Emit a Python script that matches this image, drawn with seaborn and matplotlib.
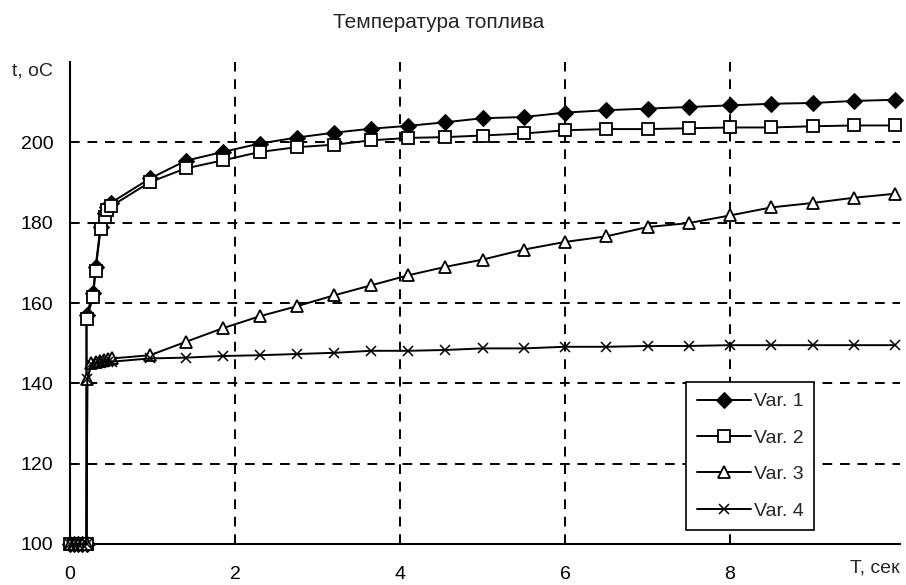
import matplotlib
matplotlib.use("Agg")
import matplotlib.pyplot as plt
import seaborn as sns
import pandas as pd

# ---- data ----
time_12 = [0, 0.05, 0.1, 0.15, 0.2, 0.2, 0.28, 0.31, 0.37, 0.42, 0.45, 0.5,
           0.97, 1.4, 1.85, 2.3, 2.75, 3.2, 3.65, 4.1, 4.55, 5.0, 5.5, 6.0,
           6.5, 7.0, 7.5, 8.0, 8.5, 9.0, 9.5, 10.0]
time_34 = [0, 0.05, 0.1, 0.15, 0.2, 0.21, 0.26, 0.31, 0.36, 0.41, 0.46, 0.51,
           0.97, 1.4, 1.85, 2.3, 2.75, 3.2, 3.65, 4.1, 4.55, 5.0, 5.5, 6.0,
           6.5, 7.0, 7.5, 8.0, 8.5, 9.0, 9.5, 10.0]
var1 = [100, 100, 100, 100, 100, 157, 162.5, 169, 179, 182.5, 184, 185,
        191, 195.4, 197.6, 199.7, 201.2, 202.4, 203.4, 204.1, 205.0, 206.0,
        206.3, 207.4, 208.0, 208.4, 208.8, 209.2, 209.6, 209.8, 210.3, 210.6]
var2 = [100, 100, 100, 100, 100, 156, 161.5, 168, 178.3, 181.4, 183.1, 184.1,
        190.1, 193.5, 195.5, 197.6, 198.8, 199.4, 200.5, 201.1, 201.3, 201.7,
        202.2, 203.0, 203.3, 203.3, 203.5, 203.7, 203.7, 204.0, 204.2, 204.2]
var3 = [100, 100, 100, 100, 100, 141, 145, 145.3, 145.5, 145.7, 146, 146.2,
        147.0, 150.3, 153.7, 156.7, 159.2, 161.9, 164.4, 166.9, 169.0, 170.8,
        173.3, 175.2, 176.6, 178.9, 179.9, 181.8, 183.8, 184.9, 186.2, 187.2]
var4 = [100, 100, 100, 100, 100, 141, 144.8, 145, 145.1, 145.2, 145.3, 145.4,
        146.2, 146.4, 146.8, 147.0, 147.3, 147.6, 148.1, 148.1, 148.3, 148.7,
        148.7, 149.1, 149.1, 149.3, 149.3, 149.5, 149.5, 149.5, 149.5, 149.5]
series_names = ["Var. 1", "Var. 2", "Var. 3", "Var. 4"]
x_ticks = [0, 2, 4, 6, 8, 10]
x_tick_labels = ["0", "2", "4", "6", "8", ""]
y_ticks = [100, 120, 140, 160, 180, 200, 220]
y_tick_labels = ["100", "120", "140", "160", "180", "200", ""]
x_grid = [2, 4, 6, 8]
y_grid = [120, 140, 160, 180, 200]
title = "Температура топлива"
y_label = "t, oC"
x_label = "T, сек"

sns.set_style("white")
plt.rcParams["font.family"] = ["Liberation Sans", "DejaVu Sans"]

fig = plt.figure(figsize=(9.06, 5.85), dpi=100)
ax = fig.add_axes([70 / 906, 1 - 544 / 585, 830 / 906, 482 / 585])

styles = [
    dict(marker="D", markersize=8, markerfacecolor="black", markeredgecolor="black"),
    dict(marker="s", markersize=8.5, markerfacecolor="white", markeredgecolor="black", markeredgewidth=1.3),
    dict(marker="^", markersize=9, markerfacecolor="white", markeredgecolor="black", markeredgewidth=1.3),
    dict(marker="x", markersize=7, markeredgecolor="black", markeredgewidth=1.1),
]
data = [(time_12, var1), (time_12, var2), (time_34, var3), (time_34, var4)]

# gridlines
for g in y_grid:
    ax.axhline(g, color="black", lw=1.4, ls=(0, (5, 4)), zorder=1)
for g in x_grid:
    ax.axvline(g, color="black", lw=1.4, ls=(0, (5, 4)), zorder=1)

for (t, v), name, st in zip(data, series_names, styles):
    sns.lineplot(x=t, y=v, ax=ax, color="black", lw=1.4, sort=False,
                 estimator=None, label=name, clip_on=False, zorder=3, **st)

ax.set_xlim(0, 10.06)
ax.set_ylim(100, 220)
ax.set_xticks(x_ticks)
ax.set_xticklabels(x_tick_labels)
ax.set_yticks(y_ticks)
ax.set_yticklabels(y_tick_labels)
ax.tick_params(axis="both", direction="inout", length=12, width=1.3,
               labelsize=14, color="black", labelcolor="black")
ax.tick_params(axis="x", pad=10)
ax.tick_params(axis="y", pad=6)
for s in ["top", "right"]:
    ax.spines[s].set_visible(False)
for s in ["left", "bottom"]:
    ax.spines[s].set_color("black")
    ax.spines[s].set_linewidth(1.5)
ax.set_xlabel("")
ax.set_ylabel("")

fig.text(439 / 906, 1 - 22 / 585, title, ha="center", va="center", fontsize=15)
fig.text(53 / 906, 1 - 71 / 585, y_label, ha="right", va="center", fontsize=14)
fig.text(900 / 906, 1 - 568 / 585, x_label, ha="right", va="center", fontsize=14)

leg = ax.legend(loc="upper left", bbox_to_anchor=(0.742, 0.336), borderaxespad=0,
                frameon=True, fancybox=False, shadow=False, fontsize=14,
                handlelength=2.8, handletextpad=0.15, labelspacing=0.97,
                borderpad=0.55)
leg.get_frame().set_edgecolor("black")
leg.get_frame().set_linewidth(1.2)
leg.get_frame().set_alpha(1)

fig.savefig("out.png", dpi=100, facecolor="white")
